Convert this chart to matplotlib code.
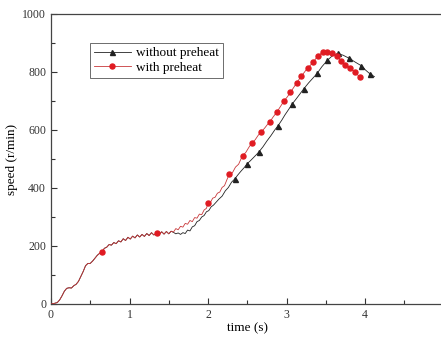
import matplotlib
matplotlib.use("Agg")
import matplotlib.pyplot as plt
import numpy as np

plt.rcParams['font.family'] = ['Liberation Serif', 'DejaVu Serif']

# shared start-up part of both runs (time s, speed r/min)
common_t = [0.00, 0.04, 0.08, 0.11, 0.14, 0.17, 0.20, 0.23, 0.26, 0.29, 0.32, 0.35,
            0.38, 0.41, 0.44, 0.47, 0.50, 0.53, 0.56, 0.59, 0.62, 0.65, 0.68, 0.71,
            0.74, 0.77, 0.80, 0.83, 0.86, 0.89, 0.92, 0.95, 0.98, 1.01, 1.04, 1.07,
            1.10, 1.13, 1.16, 1.19, 1.22, 1.25, 1.28, 1.31, 1.35, 1.38, 1.41, 1.44,
            1.47, 1.50, 1.53]
common_y = [0, 2, 5, 14, 28, 44, 54, 56, 55, 63, 68, 78,
            95, 112, 132, 140, 140, 148, 158, 168, 175, 180, 192, 196,
            205, 203, 212, 208, 218, 214, 225, 219, 230, 224, 234, 228,
            238, 231, 240, 233, 243, 236, 246, 238, 245, 240, 249, 241,
            250, 242, 251]

# with preheat, after the curves split
red_t = [1.56, 1.59, 1.62, 1.65, 1.68, 1.71, 1.74, 1.77, 1.80, 1.83, 1.86, 1.89,
         1.92, 1.95, 1.98, 2.00, 2.03, 2.06, 2.09, 2.12, 2.15, 2.18, 2.21, 2.24,
         2.27, 2.31, 2.35, 2.39, 2.44, 2.48, 2.52, 2.56, 2.60, 2.64, 2.68, 2.72,
         2.76, 2.79, 2.83, 2.88, 2.93, 2.97, 3.01, 3.05, 3.09, 3.13, 3.19, 3.23,
         3.27, 3.30, 3.34, 3.40, 3.46, 3.52, 3.58, 3.64, 3.70, 3.75, 3.81, 3.87,
         3.93]
red_y = [248, 260, 256, 268, 265, 278, 275, 288, 284, 298, 296, 310,
         308, 324, 330, 347, 350, 365, 368, 382, 386, 402, 408, 428,
         447, 452, 472, 482, 512, 522, 540, 556, 566, 582, 594, 606,
         620, 629, 645, 663, 684, 701, 714, 730, 746, 763, 786, 800,
         815, 822, 834, 856, 868, 870, 864, 856, 838, 824, 815, 799,
         784]
red_marks = [0.65, 1.35, 2.00, 2.27, 2.44, 2.56, 2.68, 2.79, 2.88, 2.97, 3.05,
             3.13, 3.19, 3.27, 3.34, 3.40, 3.46, 3.52, 3.58, 3.64, 3.70, 3.75,
             3.81, 3.87, 3.93]

# without preheat, after the curves split
blk_t = [1.56, 1.59, 1.62, 1.65, 1.68, 1.71, 1.74, 1.77, 1.80, 1.83, 1.86, 1.89,
         1.92, 1.95, 1.98, 2.01, 2.04, 2.07, 2.10, 2.14, 2.18, 2.22, 2.26, 2.30,
         2.34, 2.38, 2.42, 2.46, 2.50, 2.54, 2.58, 2.62, 2.65, 2.70, 2.75, 2.80,
         2.85, 2.89, 2.94, 2.98, 3.03, 3.07, 3.12, 3.17, 3.22, 3.28, 3.34, 3.39,
         3.45, 3.52, 3.58, 3.65, 3.72, 3.80, 3.87, 3.95, 4.01, 4.07, 4.12]
blk_y = [247, 242, 245, 240, 246, 243, 255, 252, 266, 270, 284, 288,
         300, 305, 318, 322, 335, 341, 350, 362, 372, 390, 402, 420,
         431, 445, 458, 470, 484, 494, 505, 516, 525, 542, 562, 580,
         600, 614, 634, 652, 672, 689, 706, 724, 742, 762, 780, 795,
         818, 840, 855, 864, 858, 847, 835, 822, 806, 792, 784]
blk_marks = [2.34, 2.50, 2.65, 2.89, 3.07, 3.22, 3.39, 3.52, 3.65, 3.80, 3.95, 4.07]

t_red = np.array(common_t + red_t)
y_red = np.array(common_y + red_y)
t_blk = np.array(common_t + blk_t)
y_blk = np.array(common_y + blk_y)

fig = plt.figure(figsize=(4.41, 3.38), dpi=100)
ax = fig.add_axes([51/441, 34/338, 392.5/441, 290/338])

ax.plot(t_blk, y_blk, color='#222222', lw=0.6, marker='^', ms=3.6,
        markevery=list(np.where(np.isin(t_blk, blk_marks))[0]),
        label='without preheat', zorder=2)
ax.plot(t_red, y_red, color='#c8383a', lw=0.6, marker='o', ms=3.6,
        mfc='#e01b22', mec='#e01b22',
        markevery=list(np.where(np.isin(t_red, red_marks))[0]),
        label='with preheat', zorder=3)

ax.set_xlim(0, 5)
ax.set_ylim(0, 1000)
ax.set_xticks([0, 1, 2, 3, 4, 5])
ax.set_xticks([0.5, 1.5, 2.5, 3.5, 4.5], minor=True)
ax.set_yticks([0, 200, 400, 600, 800, 1000])
ax.set_yticks([100, 300, 500, 700, 900], minor=True)
ax.tick_params(which='both', direction='in', labelsize=8.5, colors='#333333')
ax.tick_params(which='major', length=4, width=0.8)
ax.tick_params(which='minor', length=3, width=0.8)
for s in ax.spines.values():
    s.set_color('#444444')
    s.set_linewidth(0.9)

ax.set_xlabel('time (s)', fontsize=9.5, labelpad=1)
ax.set_ylabel('speed (r/min)', fontsize=9.5, labelpad=3)

leg = ax.legend(loc='upper left', bbox_to_anchor=(0.099, 0.9), borderaxespad=0,
                fontsize=9.5, handlelength=2.8, handletextpad=0.4,
                borderpad=0.3, labelspacing=0.2, fancybox=False,
                edgecolor='#555555', framealpha=1)
leg.get_frame().set_linewidth(0.6)

fig.savefig('out.png', dpi=100)
